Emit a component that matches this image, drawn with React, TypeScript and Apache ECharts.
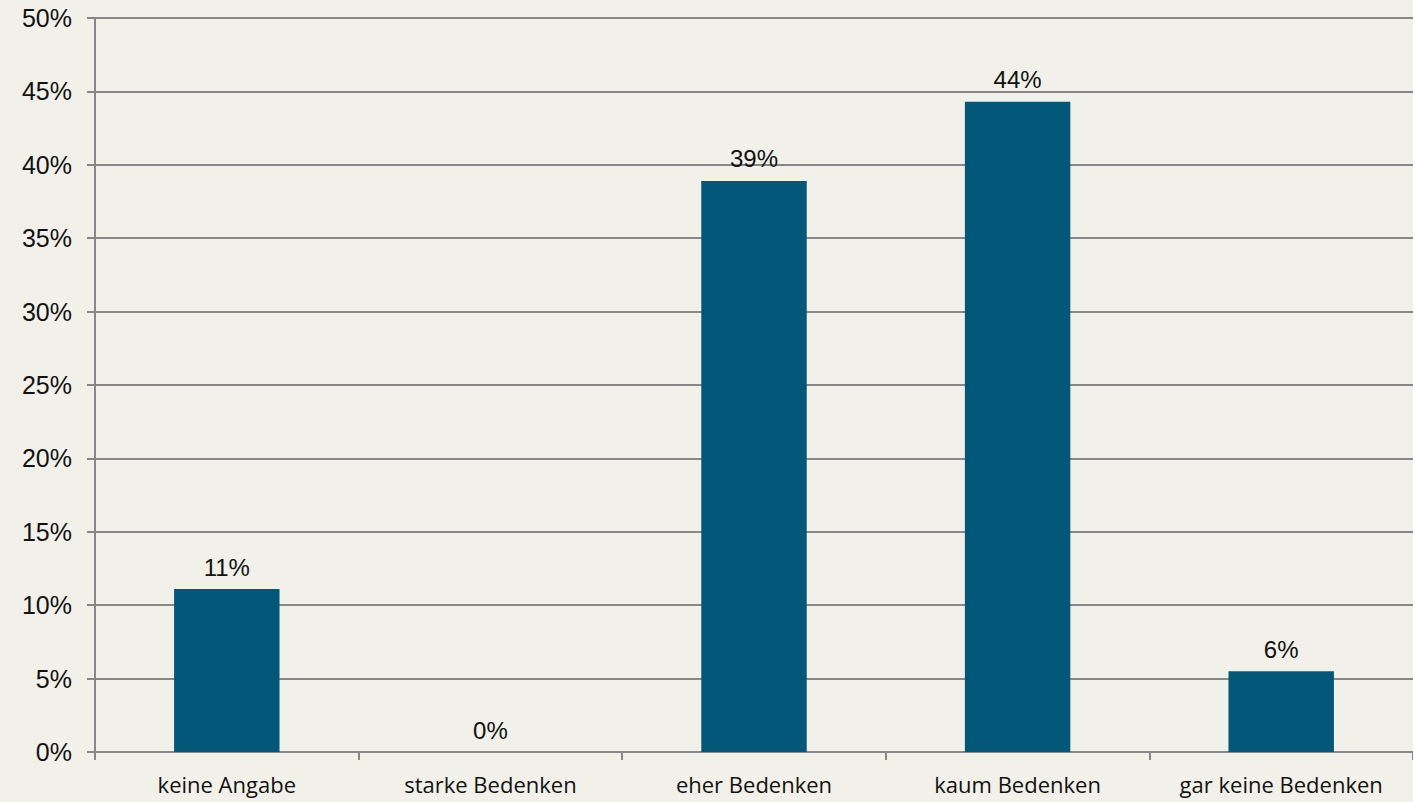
import React, { useEffect, useRef } from "react";
import * as echarts from "echarts";

const categories = ["keine Angabe", "starke Bedenken", "eher Bedenken", "kaum Bedenken", "gar keine Bedenken"];
const values = [11.1, 0, 38.9, 44.3, 5.5];
const yTicks = [0, 5, 10, 15, 20, 25, 30, 35, 40, 45, 50];

export default function App() {
  const ref = useRef<HTMLDivElement>(null);
  useEffect(() => {
    if (!ref.current) return;
    const chart = echarts.init(ref.current, undefined, { renderer: "svg" });
    chart.setOption({
      animation: false,
      backgroundColor: "#F1F1E9",
      grid: { left: 95, right: 0, top: 18, bottom: 50, containLabel: false },
      xAxis: {
        type: "category",
        data: categories,
        axisLine: { lineStyle: { color: "#878787", width: 2 } },
        axisTick: { show: true, interval: 0, length: 8, lineStyle: { color: "#878787", width: 2 } },
        axisLabel: { interval: 0, hideOverlap: false, color: "#111", fontFamily: "Open Sans", fontSize: 22, margin: 21 },
      },
      yAxis: {
        type: "value",
        min: yTicks[0],
        max: yTicks[yTicks.length - 1],
        interval: 5,
        axisLine: { show: true, lineStyle: { color: "#878787", width: 2 } },
        axisTick: { show: true, length: 8, lineStyle: { color: "#878787", width: 2 } },
        splitLine: { lineStyle: { color: "#878787", width: 2 } },
        axisLabel: {
          color: "#111",
          fontFamily: "Liberation Sans",
          fontSize: 25,
          margin: 23,
          padding: [4, 0, 0, 0],
          formatter: (v: number) => v + "%",
        },
      },
      series: [
        {
          type: "bar",
          data: values,
          barWidth: "40%",
          itemStyle: { color: "#03587A" },
          label: {
            show: true,
            position: "top",
            distance: 10,
            color: "#111",
            fontFamily: "Liberation Sans",
            fontSize: 24,
            formatter: (p: any) => Math.round(p.value) + "%",
          },
        },
      ],
    });
    return () => chart.dispose();
  }, []);
  return <div ref={ref} style={{ position: "fixed", left: 0, top: 0, width: 1413, height: 802 }} />;
}
